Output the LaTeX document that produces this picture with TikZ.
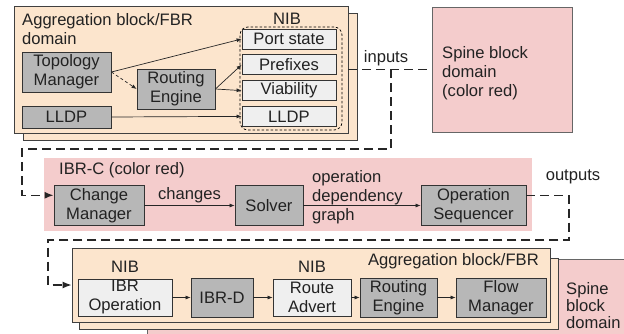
\documentclass[tikz,border=0pt]{standalone}
\usepackage{fontspec}
\setmainfont{Liberation Sans}
\usetikzlibrary{arrows.meta,positioning,calc}

\definecolor{peach}{HTML}{FCE5CD}
\definecolor{rosy}{HTML}{F4CCCC}
\definecolor{midgray}{HTML}{B7B7B7}
\definecolor{palegray}{HTML}{EFEFEF}
\definecolor{ink}{HTML}{222222}

\begin{document}
\begin{tikzpicture}[
  x=1pt, y=-1pt,
  every node/.style={font=\fontsize{16.6}{19}\selectfont, text=ink},
  sz/.style 2 args={minimum width=#1pt, minimum height=#2pt},
  aggbox/.style={draw=black!75, line width=0.8pt, fill=peach, inner sep=0pt},
  spinebox/.style={draw=black!60, line width=0.8pt, fill=rosy, inner sep=0pt},
  ibrcbox/.style={fill=rosy, inner sep=0pt},
  gbox/.style={draw=black!80, line width=0.8pt, fill=midgray, align=center, inner sep=0pt},
  lbox/.style={draw=black!80, line width=0.8pt, fill=palegray, align=center, inner sep=0pt},
  lbl/.style={inner sep=0pt, align=left},
  arr/.style={-{Latex[length=5pt,width=4pt]}, line width=0.7pt, black!85},
  flow/.style={dash pattern=on 9pt off 5pt, line width=1.4pt, black!85},
  flowarr/.style={flow, -{Latex[length=9pt,width=7pt]}}
]
\useasboundingbox (0,0) rectangle (624,334);

% upper aggregation block and its NIB
\node[aggbox, sz={334}{127}] (aggback) at (190,76.5) {};
\node[aggbox, sz={334}{127}] (aggfront) at (181,69.5) {};
\node[lbl, anchor=north west] (aggtitle) at (22,13) {Aggregation block/FBR\\domain};
\node[lbl] (nibtop) at (287,18.5) {NIB};
\node[draw, line width=0.7pt, dash pattern=on 2.5pt off 2pt, rounded corners=8pt, sz={102}{103}] (nib) at (291,78.5) {};
\node[lbox, sz={94}{20}] (port) at (289,39) {Port state};
\node[lbox, sz={94}{20}, below=5pt of port] (pfx) {Prefixes};
\node[lbox, sz={94}{20}, below=5pt of pfx] (via) {Viability};
\node[lbox, sz={94}{20}, below=5pt of via] (nlldp) {LLDP};
\node[gbox, sz={89}{40}] (topo) at (66.5,72) {Topology\\Manager};
\node[gbox, sz={89}{22}] (lldp) at (66.5,117) {LLDP};
\node[gbox, sz={78}{40}] (route) at (176,89) {Routing\\Engine};

\draw[arr] (topo.east) -- (port.west);
\draw[arr, dash pattern=on 3pt off 2.5pt] (topo.east) -- (route.west);
\draw[arr] (route.east) -- (pfx.west);
\draw[arr] (route.east) -- (via.west);
\draw[arr] (lldp.east) -- (nlldp.west);

% spine block
\node[spinebox, sz={140}{125}] (spine) at (502,69.5) {};
\node[lbl, anchor=north west] (spinetxt) at (442,46) {Spine block\\domain\\(color red)};

% IBR-C
\node[ibrcbox, sz={488}{73}] (ibrc) at (288,194.5) {};
\node[lbl, anchor=base west] (ibrctitle) at (59,175) {IBR-C (color red)};
\node[gbox, sz={90}{40}] (cm) at (99,205.5) {Change\\Manager};
\node[gbox, sz={68}{40}] (solver) at (269,205.5) {Solver};
\node[gbox, sz={105}{40}] (opseq) at (473.5,205.5) {Operation\\Sequencer};
\node[lbl, anchor=north west] (odg) at (312,170) {operation\\dependency\\graph};

\draw[arr] (cm) -- node[lbl, above=2pt] (chg) {changes} (solver);
\draw[arr] (solver) -- (opseq);

% inputs
\node[lbl, anchor=base] (inputs) at (386,63) {inputs};
\coordinate (tap) at (391,69.5);
\coordinate (bend1) at (22,149);
\coordinate (cmin) at ($(cm.north west)!0.25!(cm.south west)$);
\draw[flow] (aggfront) -- (spine);
\draw[flowarr] (tap) |- (bend1) |- (cmin);

% lower spine block and aggregation block
\node[spinebox, sz={480}{86}] (spine2) at (387,302) {};
\node[lbl, anchor=north west, font=\fontsize{16.6}{17}\selectfont] (spinetxt2) at (566,282) {Spine\\block\\domain};
\node[aggbox, sz={479}{71}] (aggback2) at (318.5,293.5) {};
\node[aggbox, sz={478}{74}] (aggfront2) at (311,285) {};
\node[lbl, anchor=base east] (aggtitle2) at (539,265) {Aggregation block/FBR};

\node[lbox, sz={94}{37}] (ibrop) at (125,297.5) {IBR\\Operation};
\node[gbox, sz={62}{39}] (ibrd) at (222,297.5) {IBR-D};
\node[lbox, sz={78}{37}] (advert) at (312,297.5) {Route\\Advert};
\node[gbox, sz={77}{39}] (route2) at (398.5,297.5) {Routing\\Engine};
\node[gbox, sz={90}{39}] (flowmgr) at (501,297.5) {Flow\\Manager};
\node[lbl, above=6pt of ibrop] (nib2) {NIB};
\node[lbl, above=6pt of advert] (nib3) {NIB};

\draw[arr] (ibrop) -- (ibrd);
\draw[arr] (ibrd) -- (advert);
\draw[arr] (advert) -- (route2);
\draw[arr] (route2) -- (flowmgr);

% outputs
\node[lbl, anchor=base] (outputs) at (573,180) {outputs};
\coordinate (opout) at ($(opseq.north east)!0.25!(opseq.south east)$);
\coordinate (bend2) at (569,240);
\coordinate (bend3) at (48,240);
\draw[flowarr] (opout) -| (bend2) -- (bend3) |- (aggfront2.west);
\end{tikzpicture}
\end{document}
